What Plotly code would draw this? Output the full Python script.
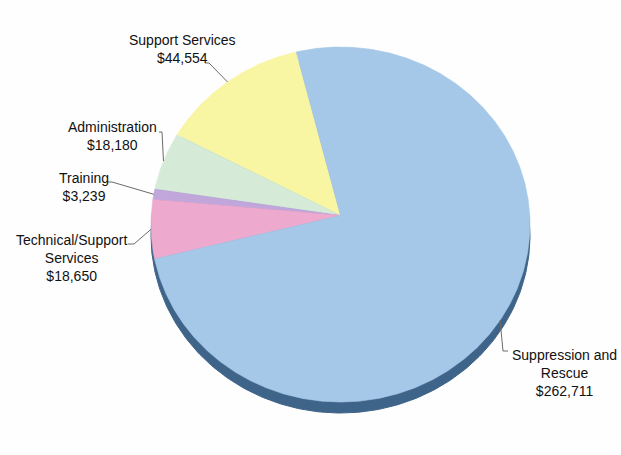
import numpy as np
import plotly.graph_objects as go

# Budget by program (counter-clockwise order, starting near 12 o'clock)
categories = ["Support Services", "Administration", "Training",
              "Technical/Support Services", "Suppression and Rescue"]
label_names = ["Support Services", "Administration", "Training",
               "Technical/Support<br>Services", "Suppression and<br>Rescue"]
values = [44554, 18180, 3239, 18650, 262711]
colors = ["#f8f5a3", "#d5ebd7", "#c0a6db", "#eeaace", "#a6c8e8"]

# ---- layout geometry (pixels) ----
W, H = 621, 455
CX, CY = 340.5, 224.5      # centre of the pie's top face
RX, RY = 189.5, 177.5      # tilted (elliptical) radii
DEPTH = 11                 # thickness of the pie's side
START = 13.5               # first slice edge, degrees counter-clockwise from top
APEX_DY = 9                # perspective offset of the slice meeting point


def to_xy(xp, yp):
    """Pixel position -> data units (1 unit = one radius)."""
    return (xp - CX) / RX, (CY - yp) / RY


def on_rim(deg, dy=0.0):
    r = np.radians(deg)
    return -np.sin(r), np.cos(r) - dy


vals = np.array(values, dtype=float)
edges = START + 360 * np.concatenate([[0], np.cumsum(vals) / vals.sum()])
apex = (0.0, APEX_DY / RY)

fig = go.Figure()

# side of the pie: the rim pushed down by the depth
t = np.linspace(0, 360, 361)
sx, sy = on_rim(t, DEPTH / RY)
fig.add_trace(go.Scatter(x=sx, y=sy, fill="toself", mode="lines",
                         fillcolor="#3f6489", line=dict(color="#3f6489", width=1),
                         hoverinfo="skip", showlegend=False))

# top face slices
for name, a0, a1, col in zip(categories, edges[:-1], edges[1:], colors):
    th = np.linspace(a0, a1, max(int(abs(a1 - a0) * 2), 4))
    ax_, ay_ = on_rim(th)
    xs = np.concatenate([[apex[0]], ax_, [apex[0]]])
    ys = np.concatenate([[apex[1]], ay_, [apex[1]]])
    fig.add_trace(go.Scatter(x=xs, y=ys, fill="toself", mode="lines",
                             fillcolor=col, line=dict(color=col, width=0.6),
                             name=name, hoverinfo="name", showlegend=False))

# label blocks (centre pixel) and the bend of each leader line near its label
label_pos = [(183, 49), (112, 135.5), (84, 186.5), (71, 257.5), (564, 373)]
leader_ends = [
    [(205, 63), (209, 63)],
    [(159, 132), (162, 132)],
    [(108, 182), (112, 182)],
    [(128, 244), (134, 244)],
    [(508, 351), (503, 351)],
]

for i, (a0, a1) in enumerate(zip(edges[:-1], edges[1:])):
    mx, my = on_rim((a0 + a1) / 2)
    pts = [to_xy(*p) for p in leader_ends[i]] + [(mx, my)]
    fig.add_trace(go.Scatter(x=[p[0] for p in pts], y=[p[1] for p in pts],
                             mode="lines", line=dict(color="#6b6b6b", width=1),
                             hoverinfo="skip", showlegend=False))
    lx, ly = label_pos[i]
    fig.add_annotation(x=lx / W, y=1 - ly / H, xref="paper", yref="paper",
                       text=f"{label_names[i]}<br>${values[i]:,}",
                       showarrow=False, xanchor="center", yanchor="middle",
                       align="center",
                       font=dict(family="Liberation Sans, Arial, sans-serif",
                                 size=14, color="#111111"))

x_range = [-CX / RX, (W - CX) / RX]
y_range = [-(H - CY) / RY, CY / RY]
fig.update_layout(
    width=W, height=H, margin=dict(l=0, r=0, t=0, b=0),
    paper_bgcolor="#fefefe", plot_bgcolor="#fefefe",
    xaxis=dict(range=x_range, visible=False, fixedrange=True),
    yaxis=dict(range=y_range, visible=False, fixedrange=True),
)

fig.write_html("out.html")
